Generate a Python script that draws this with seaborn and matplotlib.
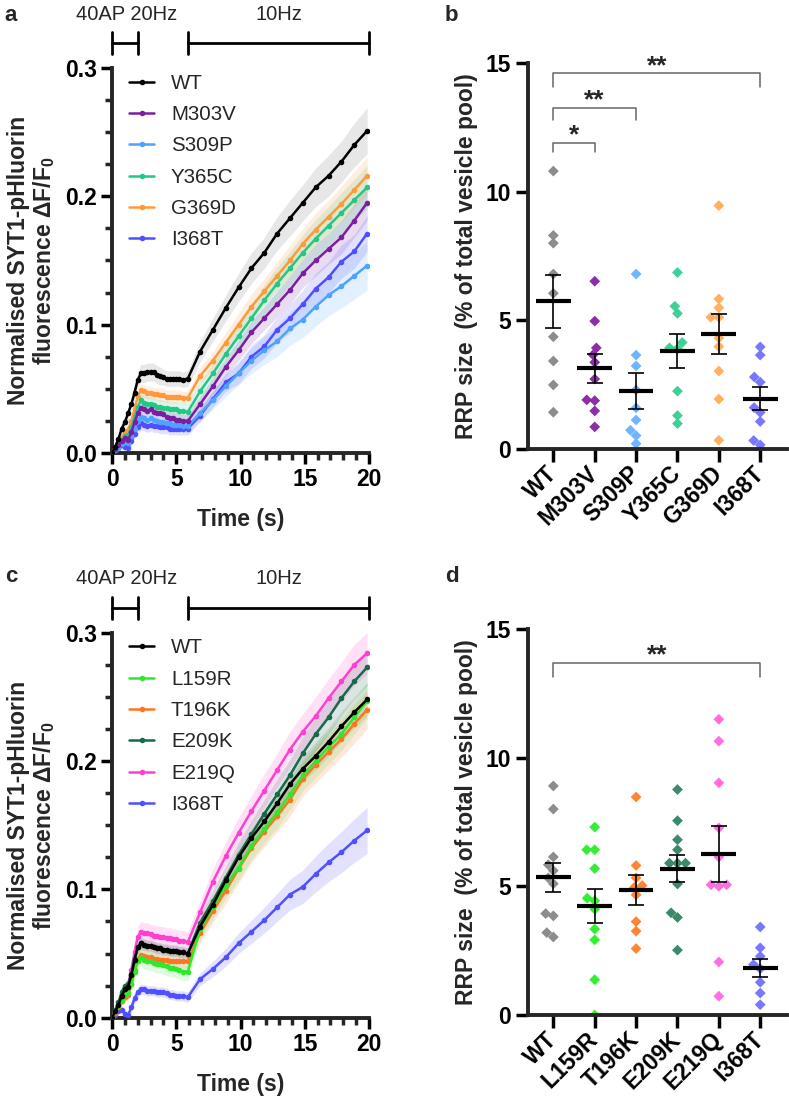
import numpy as np
import pandas as pd
import matplotlib
matplotlib.use("Agg")
import matplotlib.pyplot as plt
import seaborn as sns
from matplotlib.ticker import MultipleLocator, FormatStrFormatter

sns.set_theme(style="ticks")
plt.rcParams["font.family"] = ["Liberation Sans", "DejaVu Sans"]
plt.rcParams["mathtext.fontset"] = "custom"
plt.rcParams["mathtext.bf"] = "Liberation Sans:bold"
plt.rcParams["mathtext.rm"] = "Liberation Sans"

# time axis (s): dense 20Hz/rest part, then one marker per second in the 10Hz train
T_EARLY = [0.0, 0.25, 0.5, 0.75, 1.0, 1.25, 1.5, 1.75, 2.0, 2.25, 2.5, 2.75,
           3.0, 3.25, 3.5, 3.75, 4.0, 4.25, 4.5, 4.75, 5.0, 5.25, 5.5, 5.9]
T_LATE = [6.85, 7.85, 8.85, 9.85, 10.85, 11.85, 12.85, 13.85, 14.85, 15.85,
          16.85, 17.85, 18.85, 19.85]
TIME = T_EARLY + T_LATE

# ---- panel a: mean traces and SEM ----
A_NAMES = ["WT", "M303V", "S309P", "Y365C", "G369D", "I368T"]
WT_A = [0.000, 0.005, 0.011, 0.019, 0.024, 0.031, 0.038, 0.047, 0.057, 0.062, 0.062, 0.063,
        0.063, 0.063, 0.061, 0.060, 0.059, 0.058, 0.058, 0.058, 0.058, 0.058, 0.057, 0.058,
        0.079, 0.096, 0.113, 0.129, 0.144, 0.156, 0.171, 0.183, 0.195, 0.207, 0.216, 0.227, 0.240, 0.251]
M303V_A = [0.000, 0.003, 0.006, 0.009, 0.012, 0.010, 0.016, 0.024, 0.031, 0.035, 0.034, 0.033,
           0.034, 0.032, 0.031, 0.031, 0.030, 0.028, 0.027, 0.027, 0.026, 0.026, 0.025, 0.025,
           0.038, 0.052, 0.067, 0.080, 0.094, 0.105, 0.116, 0.127, 0.140, 0.150, 0.159, 0.168, 0.181, 0.195]
S309P_A = [0.000, 0.002, 0.004, 0.007, 0.009, 0.008, 0.013, 0.019, 0.025, 0.028, 0.027, 0.026,
           0.027, 0.026, 0.025, 0.024, 0.024, 0.023, 0.023, 0.022, 0.022, 0.022, 0.021, 0.021,
           0.031, 0.041, 0.052, 0.062, 0.072, 0.080, 0.087, 0.097, 0.104, 0.114, 0.123, 0.130, 0.138, 0.146]
Y365C_A = [0.000, 0.003, 0.007, 0.010, 0.013, 0.014, 0.020, 0.028, 0.036, 0.041, 0.039, 0.038,
           0.038, 0.037, 0.036, 0.036, 0.035, 0.035, 0.034, 0.034, 0.034, 0.033, 0.033, 0.032,
           0.048, 0.062, 0.077, 0.091, 0.105, 0.119, 0.132, 0.144, 0.156, 0.167, 0.177, 0.187, 0.197, 0.207]
G369D_A = [0.000, 0.004, 0.008, 0.012, 0.016, 0.018, 0.025, 0.034, 0.044, 0.049, 0.048, 0.047,
           0.047, 0.046, 0.046, 0.045, 0.045, 0.044, 0.044, 0.044, 0.044, 0.044, 0.043, 0.043,
           0.060, 0.072, 0.086, 0.100, 0.114, 0.126, 0.138, 0.150, 0.163, 0.174, 0.184, 0.194, 0.205, 0.216]
I368T_A = [0.000, 0.002, 0.004, 0.006, 0.005, 0.004, 0.009, 0.015, 0.020, 0.023, 0.022, 0.021,
           0.022, 0.021, 0.021, 0.020, 0.020, 0.020, 0.019, 0.019, 0.019, 0.019, 0.019, 0.019,
           0.029, 0.042, 0.055, 0.062, 0.075, 0.083, 0.096, 0.105, 0.116, 0.128, 0.137, 0.149, 0.157, 0.171]

WT_A_SEM = [0.000, 0.002, 0.003, 0.004, 0.004, 0.005, 0.005, 0.006, 0.006, 0.007, 0.007, 0.007,
            0.007, 0.007, 0.007, 0.007, 0.006, 0.006, 0.006, 0.006, 0.006, 0.006, 0.006, 0.006,
            0.008, 0.009, 0.010, 0.011, 0.012, 0.012, 0.013, 0.014, 0.014, 0.015, 0.016, 0.016, 0.017, 0.018]
M303V_A_SEM = [0.000, 0.001, 0.002, 0.003, 0.003, 0.003, 0.004, 0.004, 0.005, 0.005, 0.005, 0.005,
               0.005, 0.005, 0.005, 0.005, 0.005, 0.005, 0.005, 0.005, 0.005, 0.005, 0.005, 0.005,
               0.006, 0.007, 0.007, 0.008, 0.009, 0.009, 0.010, 0.011, 0.011, 0.012, 0.012, 0.013, 0.013, 0.014]
S309P_A_SEM = [0.000, 0.001, 0.002, 0.002, 0.003, 0.003, 0.004, 0.004, 0.005, 0.005, 0.005, 0.005,
               0.005, 0.005, 0.005, 0.005, 0.005, 0.005, 0.005, 0.005, 0.005, 0.005, 0.005, 0.005,
               0.006, 0.007, 0.008, 0.009, 0.010, 0.011, 0.012, 0.013, 0.014, 0.015, 0.016, 0.017, 0.018, 0.019]
Y365C_A_SEM = [0.000, 0.001, 0.002, 0.003, 0.003, 0.004, 0.004, 0.005, 0.006, 0.006, 0.006, 0.006,
               0.006, 0.006, 0.006, 0.006, 0.006, 0.006, 0.006, 0.006, 0.006, 0.006, 0.006, 0.006,
               0.007, 0.008, 0.009, 0.010, 0.011, 0.012, 0.013, 0.013, 0.014, 0.015, 0.015, 0.016, 0.016, 0.017]
G369D_A_SEM = [0.000, 0.001, 0.002, 0.003, 0.003, 0.004, 0.004, 0.005, 0.005, 0.005, 0.005, 0.005,
               0.005, 0.005, 0.005, 0.005, 0.005, 0.005, 0.005, 0.005, 0.005, 0.005, 0.005, 0.005,
               0.006, 0.007, 0.008, 0.009, 0.010, 0.010, 0.011, 0.012, 0.012, 0.013, 0.013, 0.014, 0.014, 0.015]
I368T_A_SEM = [0.000, 0.001, 0.002, 0.003, 0.003, 0.003, 0.004, 0.004, 0.005, 0.005, 0.005, 0.005,
               0.005, 0.005, 0.005, 0.005, 0.005, 0.005, 0.005, 0.005, 0.005, 0.005, 0.005, 0.005,
               0.005, 0.006, 0.007, 0.008, 0.009, 0.009, 0.010, 0.011, 0.011, 0.012, 0.012, 0.013, 0.013, 0.014]

# ---- panel c: mean traces and SEM ----
C_NAMES = ["WT", "L159R", "T196K", "E209K", "E219Q", "I368T"]
WT_C = [0.000, 0.005, 0.010, 0.017, 0.022, 0.024, 0.033, 0.045, 0.055, 0.058, 0.057, 0.056,
        0.056, 0.055, 0.054, 0.054, 0.053, 0.053, 0.052, 0.052, 0.052, 0.051, 0.051, 0.050,
        0.071, 0.088, 0.107, 0.125, 0.140, 0.153, 0.167, 0.182, 0.194, 0.204, 0.215, 0.227, 0.238, 0.248]
L159R_C = [0.000, 0.005, 0.009, 0.014, 0.018, 0.019, 0.026, 0.036, 0.044, 0.047, 0.045, 0.044,
           0.044, 0.043, 0.042, 0.042, 0.041, 0.040, 0.039, 0.039, 0.038, 0.037, 0.036, 0.036,
           0.069, 0.086, 0.103, 0.117, 0.134, 0.147, 0.160, 0.174, 0.189, 0.200, 0.211, 0.221, 0.234, 0.247]
T196K_C = [0.000, 0.004, 0.008, 0.013, 0.016, 0.018, 0.026, 0.037, 0.046, 0.049, 0.048, 0.047,
           0.047, 0.046, 0.046, 0.045, 0.045, 0.045, 0.044, 0.044, 0.044, 0.044, 0.044, 0.044,
           0.066, 0.083, 0.099, 0.116, 0.132, 0.145, 0.157, 0.170, 0.186, 0.197, 0.207, 0.217, 0.229, 0.240]
E209K_C = [0.000, 0.006, 0.012, 0.020, 0.025, 0.026, 0.034, 0.046, 0.055, 0.058, 0.057, 0.056,
           0.056, 0.055, 0.054, 0.054, 0.053, 0.053, 0.052, 0.052, 0.052, 0.051, 0.051, 0.050,
           0.074, 0.091, 0.109, 0.127, 0.143, 0.159, 0.174, 0.189, 0.206, 0.221, 0.234, 0.249, 0.262, 0.273]
E219Q_C = [0.000, 0.005, 0.010, 0.017, 0.022, 0.026, 0.037, 0.051, 0.063, 0.067, 0.066, 0.066,
           0.065, 0.064, 0.064, 0.063, 0.063, 0.062, 0.062, 0.061, 0.061, 0.060, 0.060, 0.059,
           0.082, 0.106, 0.126, 0.144, 0.161, 0.177, 0.193, 0.209, 0.223, 0.235, 0.249, 0.262, 0.275, 0.284]
I368T_C = [0.000, 0.002, 0.005, 0.006, 0.003, 0.002, 0.008, 0.015, 0.020, 0.022, 0.022, 0.021,
           0.021, 0.021, 0.020, 0.020, 0.020, 0.019, 0.018, 0.018, 0.017, 0.017, 0.017, 0.016,
           0.030, 0.038, 0.047, 0.058, 0.067, 0.076, 0.086, 0.096, 0.102, 0.112, 0.121, 0.129, 0.138, 0.146]

WT_C_SEM = [0.000, 0.001, 0.002, 0.003, 0.003, 0.003, 0.004, 0.004, 0.005, 0.005, 0.005, 0.005,
            0.005, 0.005, 0.005, 0.005, 0.005, 0.005, 0.005, 0.005, 0.005, 0.005, 0.005, 0.005,
            0.006, 0.006, 0.007, 0.008, 0.008, 0.009, 0.009, 0.010, 0.010, 0.011, 0.011, 0.012, 0.012, 0.013]
L159R_C_SEM = [0.000, 0.002, 0.003, 0.004, 0.005, 0.005, 0.006, 0.006, 0.007, 0.007, 0.007, 0.007,
               0.007, 0.007, 0.007, 0.007, 0.007, 0.007, 0.007, 0.007, 0.007, 0.007, 0.007, 0.007,
               0.008, 0.009, 0.010, 0.010, 0.011, 0.011, 0.012, 0.012, 0.012, 0.013, 0.013, 0.013, 0.013, 0.014]
T196K_C_SEM = [0.000, 0.001, 0.002, 0.003, 0.004, 0.004, 0.005, 0.005, 0.006, 0.006, 0.006, 0.006,
               0.006, 0.006, 0.006, 0.006, 0.006, 0.006, 0.006, 0.006, 0.006, 0.006, 0.006, 0.006,
               0.008, 0.009, 0.010, 0.011, 0.011, 0.012, 0.012, 0.013, 0.013, 0.014, 0.014, 0.014, 0.015, 0.015]
E209K_C_SEM = [0.000, 0.001, 0.002, 0.003, 0.003, 0.003, 0.004, 0.004, 0.004, 0.004, 0.004, 0.004,
               0.004, 0.004, 0.004, 0.004, 0.004, 0.004, 0.004, 0.004, 0.004, 0.004, 0.004, 0.004,
               0.007, 0.008, 0.009, 0.010, 0.011, 0.011, 0.012, 0.012, 0.013, 0.013, 0.013, 0.014, 0.014, 0.014]
E219Q_C_SEM = [0.000, 0.002, 0.003, 0.004, 0.005, 0.006, 0.007, 0.007, 0.008, 0.008, 0.008, 0.008,
               0.008, 0.008, 0.008, 0.008, 0.008, 0.008, 0.008, 0.008, 0.008, 0.008, 0.008, 0.008,
               0.009, 0.010, 0.011, 0.012, 0.012, 0.013, 0.013, 0.014, 0.014, 0.015, 0.015, 0.015, 0.016, 0.016]
I368T_C_SEM = [0.000, 0.001, 0.002, 0.003, 0.003, 0.003, 0.004, 0.004, 0.004, 0.004, 0.004, 0.004,
               0.004, 0.004, 0.004, 0.004, 0.004, 0.004, 0.004, 0.004, 0.004, 0.004, 0.004, 0.004,
               0.005, 0.006, 0.007, 0.008, 0.009, 0.010, 0.011, 0.012, 0.013, 0.014, 0.015, 0.016, 0.017, 0.018]

# ---- panel b: RRP size per coverslip (%) ----
WT_B = [10.8, 8.3, 8.0, 6.8, 6.05, 4.36, 3.42, 2.49, 1.43]
M303V_B = [6.52, 4.97, 3.93, 3.66, 3.37, 2.72, 1.91, 1.88, 1.48, 0.86]
S309P_B = [6.8, 3.65, 3.23, 2.3, 1.6, 1.13, 0.73, 0.52, 0.21]
Y365C_B = [6.86, 5.55, 5.27, 4.14, 3.93, 3.9, 2.25, 1.3, 0.99]
G369D_B = [9.46, 5.83, 5.49, 5.12, 5.12, 4.31, 3.98, 3.03, 1.94, 0.34]
I368T_B = [3.97, 3.65, 2.8, 2.6, 1.61, 1.42, 1.07, 0.33, 0.16]

# ---- panel d: RRP size per coverslip (%) ----
WT_D = [8.9, 8.0, 6.14, 5.84, 5.61, 5.33, 5.1, 3.94, 3.85, 3.2, 3.03]
L159R_D = [7.3, 6.42, 6.42, 5.69, 4.54, 4.44, 4.11, 3.34, 2.92, 1.37, 0.0]
T196K_D = [8.47, 5.81, 5.33, 5.03, 4.96, 4.67, 3.63, 3.26, 2.58]
E209K_D = [8.76, 7.55, 6.81, 6.42, 5.9, 5.9, 5.9, 5.09, 3.97, 3.79, 2.52]
E219Q_D = [11.49, 10.64, 9.02, 7.27, 6.14, 5.06, 5.06, 5.0, 2.06, 0.73]
I368T_D = [3.42, 2.61, 2.28, 1.96, 1.8, 1.27, 0.85, 0.4]

# colours
LINE_A = {"WT": "black", "M303V": "#7b1fa2", "S309P": "#4da3ff", "Y365C": "#25c785",
          "G369D": "#ff9a3c", "I368T": "#4f4fff"}
LINE_C = {"WT": "black", "L159R": "#2ee82e", "T196K": "#ff7420", "E209K": "#17694a",
          "E219Q": "#ff3fd0", "I368T": "#5050ff"}
DOT_B = {"WT": "#8c8c8c", "M303V": "#8b2fa8", "S309P": "#6fb5ff", "Y365C": "#3dd195",
         "G369D": "#ffb061", "I368T": "#7878ff"}
DOT_D = {"WT": "#8c8c8c", "L159R": "#33ee33", "T196K": "#ff8533", "E209K": "#3b8a6a",
         "E219Q": "#ff6fe0", "I368T": "#7878ff"}

TICK_FS = 16.5
LABEL_FS = 16.5


def style_axes(ax):
    sns.despine(ax=ax)
    for sp in ["left", "bottom"]:
        ax.spines[sp].set_linewidth(2.8)
    ax.tick_params(which="major", length=8, width=2.5, labelsize=TICK_FS, pad=3, colors="black")
    ax.tick_params(which="minor", length=5, width=2.5)
    for lab in ax.get_xticklabels() + ax.get_yticklabels():
        lab.set_fontweight("bold")


def trace_panel(ax, names, means, sems, colors):
    for name in names:
        m = np.array(means[name])
        s = np.array(sems[name])
        band = "#b0b0b0" if name == "WT" else colors[name]
        ax.fill_between(TIME, m - s, m + s, color=band, alpha=0.3 if name == "WT" else 0.16,
                        lw=0, zorder=1)
    for k, name in enumerate(names):
        sns.lineplot(x=TIME, y=means[name], color=colors[name], marker="o", markersize=4,
                     markeredgewidth=0, linewidth=1.8, errorbar=None, label=name, ax=ax,
                     zorder=20 - k)
    ax.set_xlim(0, 20)
    ax.set_ylim(0, 0.3)
    ax.xaxis.set_major_locator(MultipleLocator(5))
    ax.xaxis.set_minor_locator(MultipleLocator(1))
    ax.yaxis.set_major_locator(MultipleLocator(0.1))
    ax.yaxis.set_minor_locator(MultipleLocator(0.025))
    ax.yaxis.set_major_formatter(FormatStrFormatter("%.1f"))
    style_axes(ax)
    ax.set_xlabel("Time (s)", fontsize=LABEL_FS, fontweight="bold")
    ax.set_ylabel("Normalised SYT1-pHluorin\nfluorescence ΔF/F$_\\mathbf{0}$", fontsize=LABEL_FS,
                  fontweight="bold", linespacing=1.05)
    ax.xaxis.set_label_coords(0.5, -0.143)
    ax.yaxis.set_label_coords(-0.215, 0.5)
    ax.legend(loc="upper left", bbox_to_anchor=(0.065, 0.985), frameon=False, fontsize=14.8,
              handlelength=1.25, handletextpad=0.8, labelspacing=0.6, borderpad=0,
              borderaxespad=0)
    # stimulation bars above the axes
    for x0, x1 in [(0, 2), (5.9, 20)]:
        ax.plot([x0, x1], [0.3195, 0.3195], color="black", lw=2, clip_on=False)
        ax.plot([x0, x0], [0.311, 0.328], color="black", lw=2, clip_on=False)
        ax.plot([x1, x1], [0.311, 0.328], color="black", lw=2, clip_on=False)
    ax.text(1.1, 0.342, "40AP 20Hz", ha="center", va="center", fontsize=14.5)
    ax.text(13.0, 0.342, "10Hz", ha="center", va="center", fontsize=14.5)


def sig_bracket(ax, x0, x1, y, drop, label, ty):
    ax.plot([x0, x0, x1, x1], [y - drop, y, y, y - drop], color="#666666", lw=1.1)
    ax.text((x0 + x1) / 2, ty, label, ha="center", va="center", fontsize=19, fontweight="bold")


def rrp_panel(ax, names, values, colors):
    df = pd.DataFrame({
        "genotype": np.repeat(names, [len(values[n]) for n in names]),
        "rrp": np.concatenate([values[n] for n in names]),
    })
    sns.swarmplot(data=df, x="genotype", y="rrp", hue="genotype", order=names,
                  hue_order=names, palette=colors, marker="D", size=5.5, linewidth=0,
                  legend=False, ax=ax, zorder=2)
    stats = df.groupby("genotype", sort=False)["rrp"].agg(["mean", "sem"]).reindex(names)
    pos = np.arange(len(names))
    ax.hlines(stats["mean"], pos - 0.42, pos + 0.42, color="black", lw=3, zorder=5)
    ax.errorbar(pos, stats["mean"], yerr=stats["sem"], fmt="none", ecolor="black",
                elinewidth=1.2, capsize=6, capthick=1.2, zorder=4)
    ax.set_xlim(-0.62, 5.64)
    ax.set_ylim(0, 15)
    ax.set_yticks([0, 5, 10, 15])
    style_axes(ax)
    ax.tick_params(axis="both", which="major", length=9)
    plt.setp(ax.get_xticklabels(), rotation=45, ha="right", va="center",
             rotation_mode="anchor")
    ax.tick_params(axis="x", pad=6)
    ax.set_xlabel("")
    ax.set_ylabel("RRP size  (% of total vesicle pool)", fontsize=LABEL_FS, fontweight="bold")
    ax.yaxis.set_label_coords(-0.19, 0.5)


fig = plt.figure(figsize=(7.89, 11), dpi=100)
ax_a = fig.add_axes([0.142, 0.5882, 0.3257, 0.35])
ax_b = fig.add_axes([0.6688, 0.5918, 0.3283, 0.3509])
ax_c = fig.add_axes([0.142, 0.0748, 0.3257, 0.35])
ax_d = fig.add_axes([0.6688, 0.0773, 0.3283, 0.3509])

trace_panel(ax_a, A_NAMES,
            {"WT": WT_A, "M303V": M303V_A, "S309P": S309P_A, "Y365C": Y365C_A,
             "G369D": G369D_A, "I368T": I368T_A},
            {"WT": WT_A_SEM, "M303V": M303V_A_SEM, "S309P": S309P_A_SEM,
             "Y365C": Y365C_A_SEM, "G369D": G369D_A_SEM, "I368T": I368T_A_SEM},
            LINE_A)
trace_panel(ax_c, C_NAMES,
            {"WT": WT_C, "L159R": L159R_C, "T196K": T196K_C, "E209K": E209K_C,
             "E219Q": E219Q_C, "I368T": I368T_C},
            {"WT": WT_C_SEM, "L159R": L159R_C_SEM, "T196K": T196K_C_SEM,
             "E209K": E209K_C_SEM, "E219Q": E219Q_C_SEM, "I368T": I368T_C_SEM},
            LINE_C)

rrp_panel(ax_b, A_NAMES,
          {"WT": WT_B, "M303V": M303V_B, "S309P": S309P_B, "Y365C": Y365C_B,
           "G369D": G369D_B, "I368T": I368T_B}, DOT_B)
rrp_panel(ax_d, C_NAMES,
          {"WT": WT_D, "L159R": L159R_D, "T196K": T196K_D, "E209K": E209K_D,
           "E219Q": E219Q_D, "I368T": I368T_D}, DOT_D)

sig_bracket(ax_b, 0, 1, 11.9, 0.35, "*", 12.2)
sig_bracket(ax_b, 0, 2, 13.27, 0.47, "**", 13.55)
sig_bracket(ax_b, 0, 5, 14.6, 0.53, "**", 14.88)
sig_bracket(ax_d, 0, 5, 13.69, 0.55, "**", 13.97)

for letter, x, y in [("a", 0.006, 0.986), ("b", 0.564, 0.986),
                     ("c", 0.006, 0.4755), ("d", 0.564, 0.4755)]:
    fig.text(x, y, letter, fontsize=16, fontweight="bold", ha="left", va="center")

fig.savefig("out.png", dpi=100)
